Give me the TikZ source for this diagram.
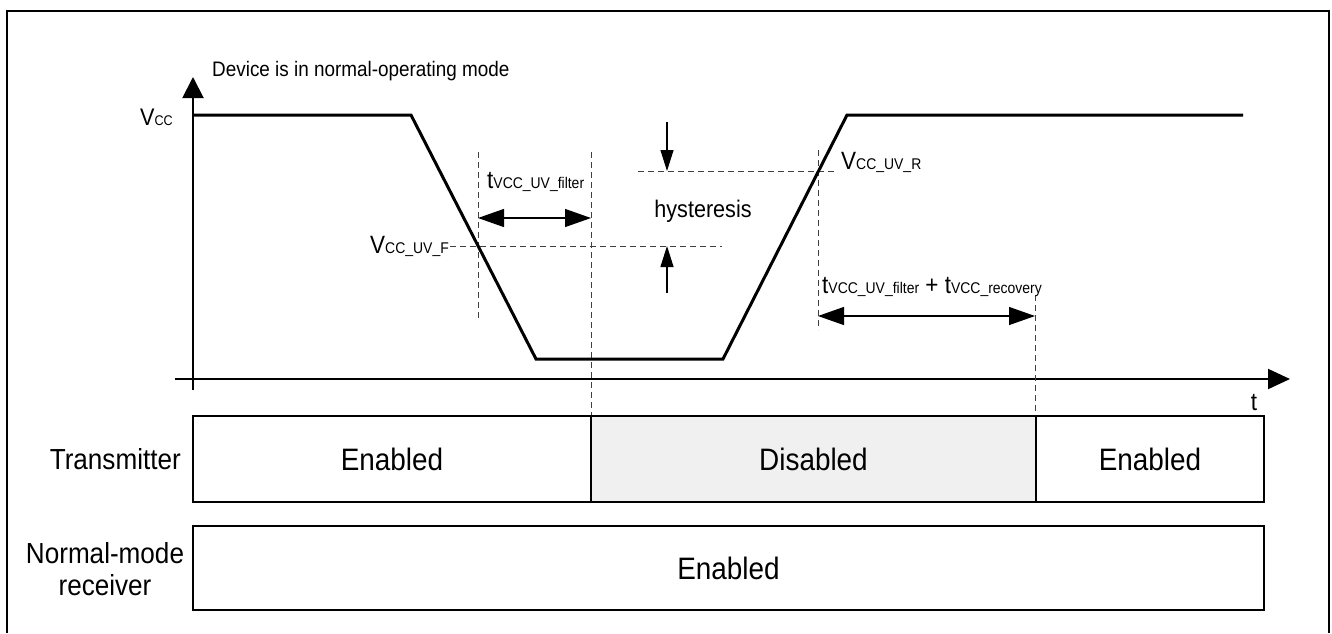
\documentclass[tikz,border=0pt]{standalone}
\usepackage{fontspec}
\setmainfont{Liberation Sans}[FakeStretch=0.9]
\usetikzlibrary{arrows.meta}
\newcommand{\lowtxt}[1]{{\fontsize{15.5pt}{16pt}\selectfont #1}}
\begin{document}
\begin{tikzpicture}[x=1pt,y=-1pt,
  frameline/.style={line width=1.5pt},
  axisline/.style={line width=2pt},
  signal/.style={line width=3pt, line join=miter},
  guide/.style={line width=1pt, draw=black!75, dash pattern=on 6pt off 4pt},
  dimarrow/.style={line width=1.2pt, {Triangle[length=26pt,width=18pt]}-{Triangle[length=26pt,width=18pt]}},
  harrow/.style={line width=1.2pt, -{Triangle[length=21pt,width=13pt]}},
  lbl/.style={inner sep=0pt, font=\fontsize{25pt}{28pt}\selectfont},
  boxtxt/.style={draw, line width=2.5pt, inner sep=0pt, outer sep=0pt, font=\fontsize{31pt}{34pt}\selectfont}
]
\useasboundingbox (0,0) rectangle (1332,633);
% frame
\draw[frameline] (7,633) -- (7,11) -- (1329,11) -- (1329,633);
% axes
\coordinate (ybot) at (193,390);
\coordinate (ytop) at (193,77);
\coordinate (xstart) at (175,379);
\coordinate (xend) at (1290,379);
\draw[axisline, -{Triangle[length=21pt,width=21pt]}] (ybot) -- (ytop);
\draw[axisline, -{Triangle[length=22pt,width=20pt]}] (xstart) -- (xend);
\node[lbl, anchor=base] (tlab) at (1254,410) {t};
% guide lines
\coordinate (gA1) at (478,152); \coordinate (gA2) at (478,320);
\coordinate (gB1) at (591,152); \coordinate (gB2) at (591,416);
\coordinate (gC1) at (818,150); \coordinate (gC2) at (818,330);
\coordinate (gD1) at (1035,295); \coordinate (gD2) at (1035,416);
\coordinate (hF1) at (450,246); \coordinate (hF2) at (722,246);
\coordinate (hR1) at (638,171); \coordinate (hR2) at (836,171);
\draw[guide] (gA1) -- (gA2);
\draw[guide] (gB1) -- (gB2);
\draw[guide] (gC1) -- (gC2);
\draw[guide] (gD1) -- (gD2);
\draw[guide] (hF1) -- (hF2);
\draw[guide] (hR1) -- (hR2);
% signal
\coordinate (s0) at (193,115);
\coordinate (s1) at (411,115);
\coordinate (s2) at (536,359);
\coordinate (s3) at (723,359);
\coordinate (s4) at (847,115);
\coordinate (s5) at (1243,115);
\draw[signal] (s0) -- (s1) -- (s2) -- (s3) -- (s4) -- (s5);
% dimension arrows
\coordinate (fa) at (478,218); \coordinate (fb) at (591,218);
\draw[dimarrow] (fa) -- (fb);
\coordinate (ra) at (818,316); \coordinate (rb) at (1035,316);
\draw[dimarrow] (ra) -- (rb);
\coordinate (ht1) at (667,122); \coordinate (ht2) at (667,171);
\coordinate (hb1) at (667,293); \coordinate (hb2) at (667,246);
\draw[harrow] (ht1) -- (ht2);
\draw[harrow] (hb1) -- (hb2);
% labels
\node[inner sep=0pt, anchor=base west, font=\fontsize{21pt}{24pt}\selectfont] (dev) at (212,76) {Device is in normal-operating mode};
\node[inner sep=0pt, anchor=base west, font=\fontsize{24pt}{26pt}\selectfont] (vcc) at (140,125) {V{\fontsize{14pt}{14pt}\selectfont CC}};
\node[lbl, anchor=base east] (vf) at (449,253) {V\lowtxt{CC\_UV\_F}};
\node[lbl, anchor=base west] (vr) at (841,169) {V\lowtxt{CC\_UV\_R}};
\node[lbl, anchor=base west] (tf) at (487,188) {t\lowtxt{VCC\_UV\_filter}};
\node[lbl, anchor=base, font=\fontsize{24pt}{26pt}\selectfont] (hys) at (703,217) {hysteresis};
\node[lbl, anchor=base west] (tsum) at (822,293) {t\lowtxt{VCC\_UV\_filter} + t\lowtxt{VCC\_recovery}};
% state boxes
\node[boxtxt, minimum width=398pt, minimum height=86pt] (tx1) at (392,459) {Enabled};
\node[boxtxt, fill=black!6, minimum width=445pt, minimum height=86pt] (tx2) at (813.5,459) {Disabled};
\node[boxtxt, minimum width=228pt, minimum height=86pt] (tx3) at (1150,459) {Enabled};
\node[boxtxt, minimum width=1071pt, minimum height=84pt] (rx) at (728.5,568) {Enabled};
\node[inner sep=0pt, anchor=east, font=\fontsize{29pt}{32pt}\selectfont] (txl) at (181,459) {Transmitter};
\node[inner sep=0pt, align=center, font=\fontsize{29pt}{32pt}\selectfont] (rxl) at (105,569) {Normal-mode\\receiver};
\end{tikzpicture}
\end{document}
